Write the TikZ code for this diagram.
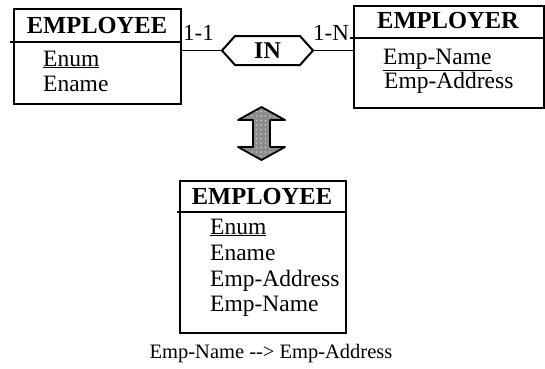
\documentclass[tikz,border=0pt]{standalone}
\usepackage{fontspec}
\setmainfont{Liberation Serif}
\usetikzlibrary{shapes.symbols,patterns.meta}
\begin{document}
\begin{tikzpicture}[x=1pt,y=-1pt,
  entbox/.style={draw,line width=2.2pt,inner sep=0pt,anchor=north west},
  divider/.style={line width=2pt},
  link/.style={line width=1.8pt},
  title/.style={font=\fontsize{24.5}{28}\selectfont\bfseries,anchor=base,inner sep=0pt},
  attr/.style={font=\fontsize{23.5}{28}\selectfont,anchor=base west,inner sep=0pt},
  card/.style={font=\fontsize{23}{27}\selectfont,anchor=base west,inner sep=0pt},
  caption/.style={font=\fontsize{20.5}{24}\selectfont,anchor=base,inner sep=0pt},
  relship/.style={draw,line width=2pt,signal,signal to=east and west,signal pointer angle=96,
    minimum width=91pt,minimum height=29pt,inner sep=0pt,font=\fontsize{24}{28}\selectfont\bfseries},
  convert/.style={draw,line width=1.8pt,line join=round,
    preaction={fill={rgb,255:red,140;green,140;blue,140}},
    pattern={Dots[distance=4.5pt,radius=0.9pt]},
    pattern color={rgb,255:red,200;green,200;blue,200}}]
\useasboundingbox (0,0) rectangle (545,368);

% entity EMPLOYEE (left)
\node[entbox,minimum width=167pt,minimum height=95pt] (emp) at (13,8) {};
\draw[divider] (10,42) -- (emp.east |- 0,42);
\node[title] (empT) at (97,33) {EMPLOYEE};
\node[attr] (empA1) at (43,66) {\underline{Enum}};
\node[attr] (empA2) at (43,91) {Ename};

% entity EMPLOYER (right)
\node[entbox,minimum width=190pt,minimum height=102pt] (emr) at (353,5) {};
\draw[divider] (350,38) -- (emr.east |- 0,38);
\node[title] (emrT) at (448,28) {EMPLOYER};
\node[attr] (emrA1) at (383,64) {\underline{Emp-Name}};
\node[attr] (emrA2) at (384,88) {Emp-Address};

% relationship IN
\node[relship] (in) at (267.5,50.5) {IN};
\draw[link] (in.west) -- (in.west -| emp.east);
\draw[link] (in.east) -- (in.east -| emr.west);
\node[card] (c1) at (183,40) {1-1};
\node[card] (c2) at (313,40) {1-N};

% transformation arrow (grey, dotted texture)
\draw[convert] (261.5,107) -- (285,120) -- (270,120) -- (270,147) -- (285,147)
  -- (261.5,160) -- (238,147) -- (253,147) -- (253,120) -- (238,120) -- cycle;

% merged entity EMPLOYEE (bottom)
\node[entbox,minimum width=166pt,minimum height=152pt] (mrg) at (179,180) {};
\draw[divider] (177,212) -- (mrg.east |- 0,212);
\node[title] (mrgT) at (262,204) {EMPLOYEE};
\node[attr] (mrgA1) at (210,234) {\underline{Enum}};
\node[attr] (mrgA2) at (210,260) {Ename};
\node[attr] (mrgA3) at (210,286) {Emp-Address};
\node[attr] (mrgA4) at (210,311) {Emp-Name};

% functional dependency
\node[caption] (fd) at (271,358) {Emp-Name {-}{-}> Emp-Address};
\end{tikzpicture}
\end{document}
